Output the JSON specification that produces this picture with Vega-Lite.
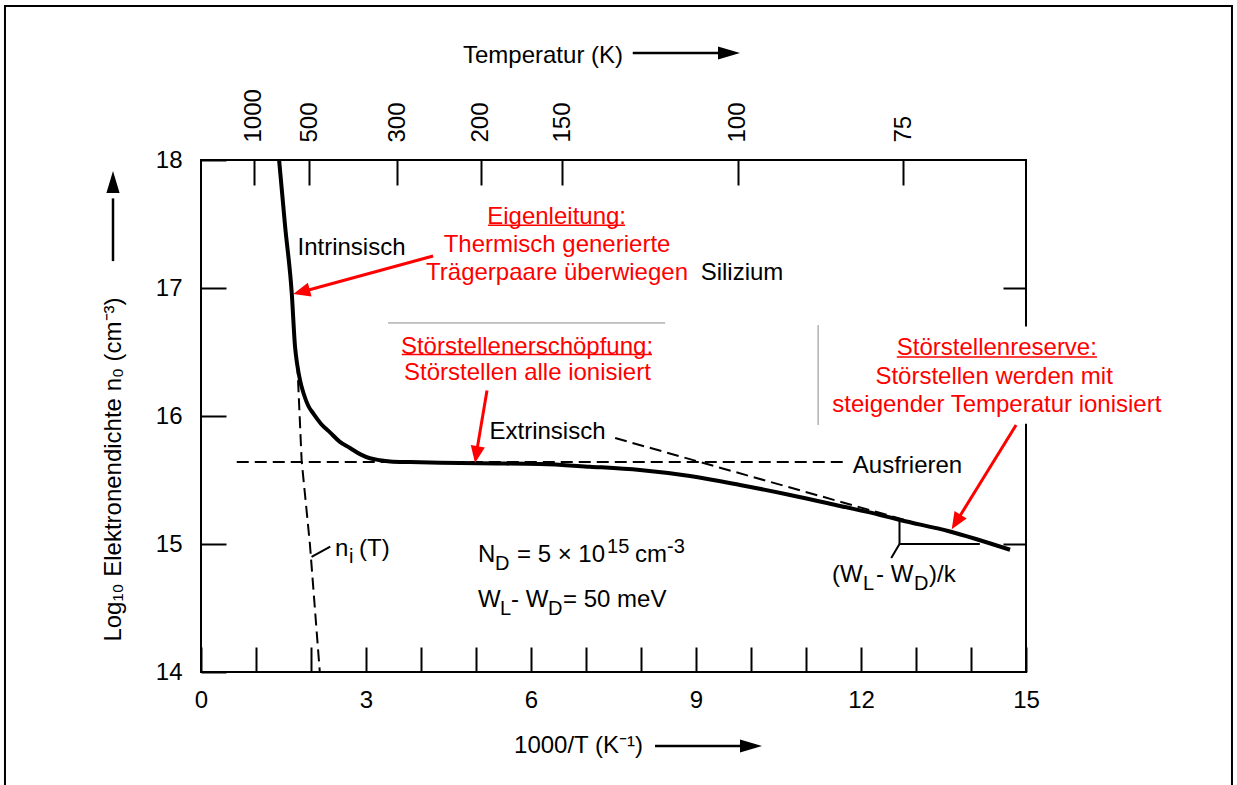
{
  "$schema": "https://vega.github.io/schema/vega-lite/v6.json",
  "width": 825,
  "height": 512,
  "autosize": {"type": "none"},
  "padding": {"left": 201, "top": 160, "right": 211, "bottom": 113},
  "background": "white",
  "config": {
    "view": {"stroke": "black", "strokeWidth": 2},
    "axis": {
      "domain": false, "grid": false, "tickColor": "black", "tickWidth": 2,
      "labelColor": "black", "labelFont": "Liberation Sans", "labelFontSize": 24,
      "labelFlush": false, "labelOverlap": false,
      "titleFont": "Liberation Sans", "titleFontSize": 24, "titleFontWeight": "normal", "titleColor": "black"
    },
    "text": {"font": "Liberation Sans", "fontSize": 24}
  },
  "datasets": {
    "curves": [
      {"s":"n0","o":1,"x":1.42,"y":18.0},{"s":"n0","o":2,"x":1.53,"y":17.48},{"s":"n0","o":3,"x":1.65,"y":16.96},
      {"s":"n0","o":4,"x":1.71,"y":16.54},{"s":"n0","o":5,"x":1.75,"y":16.40},{"s":"n0","o":6,"x":1.80,"y":16.28},
      {"s":"n0","o":7,"x":1.87,"y":16.17},{"s":"n0","o":8,"x":1.95,"y":16.08},{"s":"n0","o":9,"x":2.04,"y":16.02},
      {"s":"n0","o":10,"x":2.18,"y":15.94},{"s":"n0","o":11,"x":2.35,"y":15.87},{"s":"n0","o":12,"x":2.52,"y":15.80},
      {"s":"n0","o":13,"x":2.71,"y":15.75},{"s":"n0","o":14,"x":2.90,"y":15.70},{"s":"n0","o":15,"x":3.07,"y":15.67},
      {"s":"n0","o":16,"x":3.25,"y":15.655},{"s":"n0","o":17,"x":3.44,"y":15.645},{"s":"n0","o":18,"x":3.80,"y":15.64},
      {"s":"n0","o":19,"x":4.35,"y":15.635},{"s":"n0","o":20,"x":5.07,"y":15.63},{"s":"n0","o":21,"x":6.16,"y":15.625},
      {"s":"n0","o":22,"x":7.07,"y":15.604},{"s":"n0","o":23,"x":7.98,"y":15.578},{"s":"n0","o":24,"x":8.89,"y":15.531},
      {"s":"n0","o":25,"x":9.80,"y":15.461},{"s":"n0","o":26,"x":10.71,"y":15.383},{"s":"n0","o":27,"x":11.62,"y":15.297},
      {"s":"n0","o":28,"x":12.35,"y":15.227},{"s":"n0","o":29,"x":12.71,"y":15.188},{"s":"n0","o":30,"x":13.60,"y":15.10},
      {"s":"n0","o":31,"x":14.71,"y":14.955},
      {"s":"ni","o":1,"x":1.75,"y":16.42},{"s":"ni","o":2,"x":1.83,"y":15.65},{"s":"ni","o":3,"x":1.98,"y":15.0},{"s":"ni","o":4,"x":2.16,"y":14.0},
      {"s":"ausfrieren","o":1,"x":0.65,"y":15.64},{"s":"ausfrieren","o":2,"x":11.67,"y":15.64},
      {"s":"extrinsisch","o":1,"x":7.53,"y":15.828},{"s":"extrinsisch","o":2,"x":12.9,"y":15.175}
    ],
    "segs": [
      {"k":"black","x":12.70,"y":15.19,"x2":12.70,"y2":15.0},
      {"k":"black","x":12.70,"y":15.0,"x2":14.16,"y2":15.0},
      {"k":"black","x":12.70,"y":15.0,"x2":12.55,"y2":14.89},
      {"k":"black","x":2.01,"y":14.90,"x2":2.35,"y2":14.98},
      {"k":"gray","x":3.40,"y":16.727,"x2":8.44,"y2":16.727},
      {"k":"gray","x":11.22,"y":16.71,"x2":11.22,"y2":15.93},
      {"k":"red","x":4.22,"y":17.25,"x2":1.855,"y2":16.973},
      {"k":"red","x":5.2,"y":16.20,"x2":5.011,"y2":15.718},
      {"k":"red","x":14.82,"y":15.93,"x2":13.744,"y2":15.181},
      {"k":"uline","x":5.22,"y":17.49,"x2":7.71,"y2":17.49},
      {"k":"uline","x":3.65,"y":16.48,"x2":8.20,"y2":16.48},
      {"k":"uline","x":12.65,"y":16.46,"x2":16.29,"y2":16.46},
      {"k":"axis","x":7.85,"y":18.836,"x2":9.5,"y2":18.836},
      {"k":"axis","x":8.255,"y":13.422,"x2":9.9,"y2":13.422},
      {"k":"axis","x":-1.6,"y":17.21,"x2":-1.6,"y2":17.7}
    ],
    "heads": [
      {"a":"r1","x":1.678,"y":16.953},
      {"a":"r2","x":4.982,"y":15.633},
      {"a":"r3","x":13.649,"y":15.115},
      {"a":"top","x":9.8,"y":18.836},
      {"a":"bottom","x":10.2,"y":13.422},
      {"a":"left","x":-1.6,"y":17.914}
    ],
    "labels": [
      {"r":"red","t":"Eigenleitung:","x":6.466,"y":17.557},
      {"r":"red","t":"Thermisch generierte","x":6.473,"y":17.336},
      {"r":"red","t":"Trägerpaare überwiegen","x":6.473,"y":17.117},
      {"r":"red","t":"Störstellenerschöpfung:","x":5.927,"y":16.541},
      {"r":"red","t":"Störstellen alle ionisiert","x":5.936,"y":16.336},
      {"r":"red","t":"Störstellenreserve:","x":14.47,"y":16.531},
      {"r":"red","t":"Störstellen werden mit","x":14.42,"y":16.305},
      {"r":"red","t":"steigender Temperatur ionisiert","x":14.47,"y":16.086},
      {"r":"black","t":"Intrinsisch","x":2.736,"y":17.3125},
      {"r":"black","t":"Extrinsisch","x":6.30,"y":15.875},
      {"r":"black","t":"Silizium","x":9.836,"y":17.117},
      {"r":"black","t":"Ausfrieren","x":12.845,"y":15.609},
      {"r":"main","t":"n","x":2.436,"y":14.906},
      {"r":"small","t":"i","x":2.69,"y":14.852},
      {"r":"main","t":"(T)","x":2.873,"y":14.906},
      {"r":"main","t":"N","x":5.036,"y":14.859},
      {"r":"small","t":"D","x":5.345,"y":14.797},
      {"r":"main","t":"= 5 × 10","x":5.745,"y":14.859},
      {"r":"small","t":"15","x":7.382,"y":14.93},
      {"r":"main","t":"cm","x":7.891,"y":14.859},
      {"r":"small","t":"-3","x":8.473,"y":14.93},
      {"r":"main","t":"W","x":5.036,"y":14.51},
      {"r":"small","t":"L","x":5.436,"y":14.445},
      {"r":"main","t":"- W","x":5.636,"y":14.51},
      {"r":"small","t":"D","x":6.309,"y":14.445},
      {"r":"main","t":"= 50 meV","x":6.582,"y":14.51},
      {"r":"main","t":"(W","x":11.473,"y":14.703},
      {"r":"small","t":"L","x":12.036,"y":14.641},
      {"r":"main","t":"- W","x":12.273,"y":14.703},
      {"r":"small","t":"D","x":12.964,"y":14.641},
      {"r":"main","t":")/k","x":13.236,"y":14.703}
    ]
  },
  "resolve": {"axis": {"x": "independent", "y": "independent"}},
  "layer": [
    {
      "data": {"values": [{"name": "frame"}]},
      "mark": {"type": "rect", "fill": "transparent", "stroke": "black", "strokeWidth": 2},
      "encoding": {
        "x": {"datum": -3.564, "type": "quantitative", "scale": {"domain": [0, 15], "nice": false, "zero": false}, "axis": null},
        "x2": {"datum": 18.745},
        "y": {"datum": 19.203, "type": "quantitative", "scale": {"domain": [14, 18], "nice": false, "zero": false}, "axis": null},
        "y2": {"datum": 13.08}
      }
    },
    {
      "data": {"values": [{"name": "box"}]},
      "mark": {"type": "rect", "fill": "white", "strokeWidth": 0},
      "encoding": {
        "x": {"datum": 11.25, "type": "quantitative", "scale": {"domain": [0, 15], "nice": false, "zero": false}, "axis": null},
        "x2": {"datum": 17.9},
        "y": {"datum": 16.70, "type": "quantitative", "scale": {"domain": [14, 18], "nice": false, "zero": false}, "axis": null},
        "y2": {"datum": 15.94}
      }
    },
    {
      "data": {"name": "curves"},
      "transform": [{"filter": "datum.s !== 'n0'"}],
      "mark": {"type": "line", "color": "black", "strokeWidth": 2, "strokeDash": [12, 6]},
      "encoding": {
        "x": {"field": "x", "type": "quantitative", "scale": {"domain": [0, 15], "nice": false, "zero": false},
          "axis": {"orient": "top", "values": [0.96, 1.97, 3.57, 5.09, 6.57, 9.76, 12.77],
            "labelExpr": "datum.value < 1.5 ? '1000' : datum.value < 2.5 ? '500' : datum.value < 4 ? '300' : datum.value < 5.5 ? '200' : datum.value < 7 ? '150' : datum.value < 11 ? '100' : '75'",
            "labelAngle": 270, "labelAlign": "left", "labelBaseline": "middle",
            "tickSize": -25, "labelPadding": 43,
            "title": "Temperatur (K)", "titleX": 341.5, "titleY": -105, "titleBaseline": "middle", "titleAlign": "center", "titleAngle": 0}},
        "y": {"field": "y", "type": "quantitative", "scale": {"domain": [14, 18], "nice": false, "zero": false},
          "axis": {"orient": "right", "values": [15, 16, 17], "labels": false, "tickSize": -23, "title": null}},
        "detail": {"field": "s"},
        "order": {"field": "o"}
      }
    },
    {
      "data": {"name": "curves"},
      "transform": [{"filter": "datum.s === 'n0'"}],
      "mark": {"type": "line", "color": "black", "strokeWidth": 4, "strokeJoin": "round", "interpolate": "monotone"},
      "encoding": {
        "x": {"field": "x", "type": "quantitative", "scale": {"domain": [0, 15], "nice": false, "zero": false},
          "axis": {"orient": "bottom", "values": [0,1,2,3,4,5,6,7,8,9,10,11,12,13,14,15],
            "labelExpr": "datum.value % 3 === 0 ? datum.label : ''",
            "tickSize": -25, "labelPadding": 41, "labelBaseline": "top",
            "title": "1000/T (K⁻¹)", "titleX": 377, "titleY": 73, "titleBaseline": "middle", "titleAlign": "center"}},
        "y": {"field": "y", "type": "quantitative", "scale": {"domain": [14, 18], "nice": false, "zero": false},
          "axis": {"orient": "left", "values": [14, 15, 16, 17, 18], "tickSize": -25, "labelPadding": 44,
            "title": "Log₁₀  Elektronendichte n₀ (cm⁻³)", "titleX": -88, "titleY": 309, "titleAngle": 270, "titleBaseline": "middle", "titleAlign": "center"}},
        "order": {"field": "o"}
      }
    },
    {
      "data": {"name": "segs"},
      "transform": [{"filter": "datum.k === 'black'"}],
      "mark": {"type": "rule", "color": "black", "strokeWidth": 2},
      "encoding": {
        "x": {"field": "x", "type": "quantitative", "scale": {"domain": [0, 15], "nice": false, "zero": false}, "axis": null},
        "y": {"field": "y", "type": "quantitative", "scale": {"domain": [14, 18], "nice": false, "zero": false}, "axis": null},
        "x2": {"field": "x2"}, "y2": {"field": "y2"}
      }
    },
    {
      "data": {"name": "segs"},
      "transform": [{"filter": "datum.k === 'gray'"}],
      "mark": {"type": "rule", "color": "#8a8a8a", "strokeWidth": 1},
      "encoding": {
        "x": {"field": "x", "type": "quantitative", "scale": {"domain": [0, 15], "nice": false, "zero": false}, "axis": null},
        "y": {"field": "y", "type": "quantitative", "scale": {"domain": [14, 18], "nice": false, "zero": false}, "axis": null},
        "x2": {"field": "x2"}, "y2": {"field": "y2"}
      }
    },
    {
      "data": {"name": "segs"},
      "transform": [{"filter": "datum.k === 'red'"}],
      "mark": {"type": "rule", "color": "#ff0000", "strokeWidth": 3},
      "encoding": {
        "x": {"field": "x", "type": "quantitative", "scale": {"domain": [0, 15], "nice": false, "zero": false}, "axis": null},
        "y": {"field": "y", "type": "quantitative", "scale": {"domain": [14, 18], "nice": false, "zero": false}, "axis": null},
        "x2": {"field": "x2"}, "y2": {"field": "y2"}
      }
    },
    {
      "data": {"name": "segs"},
      "transform": [{"filter": "datum.k === 'uline'"}],
      "mark": {"type": "rule", "color": "#ff0000", "strokeWidth": 1.5},
      "encoding": {
        "x": {"field": "x", "type": "quantitative", "scale": {"domain": [0, 15], "nice": false, "zero": false}, "axis": null},
        "y": {"field": "y", "type": "quantitative", "scale": {"domain": [14, 18], "nice": false, "zero": false}, "axis": null},
        "x2": {"field": "x2"}, "y2": {"field": "y2"}
      }
    },
    {
      "data": {"name": "segs"},
      "transform": [{"filter": "datum.k === 'axis'"}],
      "mark": {"type": "rule", "color": "black", "strokeWidth": 2.5},
      "encoding": {
        "x": {"field": "x", "type": "quantitative", "scale": {"domain": [0, 15], "nice": false, "zero": false}, "axis": null},
        "y": {"field": "y", "type": "quantitative", "scale": {"domain": [14, 18], "nice": false, "zero": false}, "axis": null},
        "x2": {"field": "x2"}, "y2": {"field": "y2"}
      }
    },
    {
      "data": {"name": "heads"},
      "transform": [{"filter": "datum.a === 'r1'"}],
      "mark": {"type": "point", "shape": "M0,0L0.42,1L-0.42,1Z", "filled": true, "opacity": 1, "color": "#ff0000", "size": 1156, "angle": 255},
      "encoding": {
        "x": {"field": "x", "type": "quantitative", "scale": {"domain": [0, 15], "nice": false, "zero": false}, "axis": null},
        "y": {"field": "y", "type": "quantitative", "scale": {"domain": [14, 18], "nice": false, "zero": false}, "axis": null}
      }
    },
    {
      "data": {"name": "heads"},
      "transform": [{"filter": "datum.a === 'r2'"}],
      "mark": {"type": "point", "shape": "M0,0L0.42,1L-0.42,1Z", "filled": true, "opacity": 1, "color": "#ff0000", "size": 1156, "angle": 189.5},
      "encoding": {
        "x": {"field": "x", "type": "quantitative", "scale": {"domain": [0, 15], "nice": false, "zero": false}, "axis": null},
        "y": {"field": "y", "type": "quantitative", "scale": {"domain": [14, 18], "nice": false, "zero": false}, "axis": null}
      }
    },
    {
      "data": {"name": "heads"},
      "transform": [{"filter": "datum.a === 'r3'"}],
      "mark": {"type": "point", "shape": "M0,0L0.42,1L-0.42,1Z", "filled": true, "opacity": 1, "color": "#ff0000", "size": 1156, "angle": 211.6},
      "encoding": {
        "x": {"field": "x", "type": "quantitative", "scale": {"domain": [0, 15], "nice": false, "zero": false}, "axis": null},
        "y": {"field": "y", "type": "quantitative", "scale": {"domain": [14, 18], "nice": false, "zero": false}, "axis": null}
      }
    },
    {
      "data": {"name": "heads"},
      "transform": [{"filter": "datum.a === 'top' || datum.a === 'bottom'"}],
      "mark": {"type": "point", "shape": "M0,0L0.3,1L-0.3,1Z", "filled": true, "opacity": 1, "color": "black", "size": 1936, "angle": 90},
      "encoding": {
        "x": {"field": "x", "type": "quantitative", "scale": {"domain": [0, 15], "nice": false, "zero": false}, "axis": null},
        "y": {"field": "y", "type": "quantitative", "scale": {"domain": [14, 18], "nice": false, "zero": false}, "axis": null}
      }
    },
    {
      "data": {"name": "heads"},
      "transform": [{"filter": "datum.a === 'left'"}],
      "mark": {"type": "point", "shape": "M0,0L0.3,1L-0.3,1Z", "filled": true, "opacity": 1, "color": "black", "size": 1936, "angle": 0},
      "encoding": {
        "x": {"field": "x", "type": "quantitative", "scale": {"domain": [0, 15], "nice": false, "zero": false}, "axis": null},
        "y": {"field": "y", "type": "quantitative", "scale": {"domain": [14, 18], "nice": false, "zero": false}, "axis": null}
      }
    },
    {
      "data": {"name": "labels"},
      "transform": [{"filter": "datum.r === 'red'"}],
      "mark": {"type": "text", "color": "#ff0000", "fontSize": 24, "align": "center", "baseline": "middle"},
      "encoding": {
        "x": {"field": "x", "type": "quantitative", "scale": {"domain": [0, 15], "nice": false, "zero": false}, "axis": null},
        "y": {"field": "y", "type": "quantitative", "scale": {"domain": [14, 18], "nice": false, "zero": false}, "axis": null},
        "text": {"field": "t"}
      }
    },
    {
      "data": {"name": "labels"},
      "transform": [{"filter": "datum.r === 'black'"}],
      "mark": {"type": "text", "color": "black", "fontSize": 24, "align": "center", "baseline": "middle"},
      "encoding": {
        "x": {"field": "x", "type": "quantitative", "scale": {"domain": [0, 15], "nice": false, "zero": false}, "axis": null},
        "y": {"field": "y", "type": "quantitative", "scale": {"domain": [14, 18], "nice": false, "zero": false}, "axis": null},
        "text": {"field": "t"}
      }
    },
    {
      "data": {"name": "labels"},
      "transform": [{"filter": "datum.r === 'main'"}],
      "mark": {"type": "text", "color": "black", "fontSize": 24, "align": "left", "baseline": "alphabetic"},
      "encoding": {
        "x": {"field": "x", "type": "quantitative", "scale": {"domain": [0, 15], "nice": false, "zero": false}, "axis": null},
        "y": {"field": "y", "type": "quantitative", "scale": {"domain": [14, 18], "nice": false, "zero": false}, "axis": null},
        "text": {"field": "t"}
      }
    },
    {
      "data": {"name": "labels"},
      "transform": [{"filter": "datum.r === 'small'"}],
      "mark": {"type": "text", "color": "black", "fontSize": 20, "align": "left", "baseline": "alphabetic"},
      "encoding": {
        "x": {"field": "x", "type": "quantitative", "scale": {"domain": [0, 15], "nice": false, "zero": false}, "axis": null},
        "y": {"field": "y", "type": "quantitative", "scale": {"domain": [14, 18], "nice": false, "zero": false}, "axis": null},
        "text": {"field": "t"}
      }
    }
  ]
}
